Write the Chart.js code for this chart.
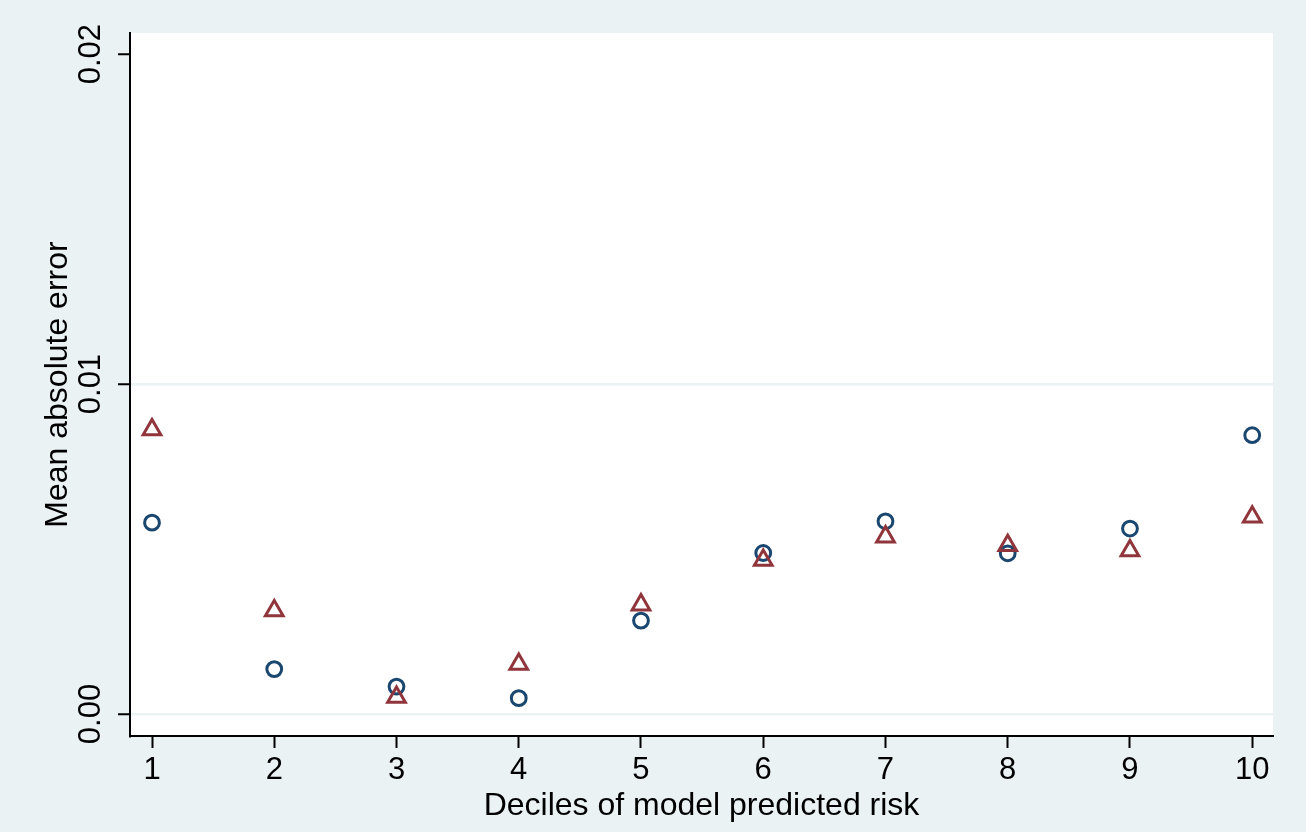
<!DOCTYPE html>
<html>
<head>
<meta charset="utf-8">
<script src="https://cdn.jsdelivr.net/npm/chart.js@4/dist/chart.umd.min.js"></script>
<style>
  html, body { margin: 0; padding: 0; background: #EAF2F3; }
  #wrap { width: 1306px; height: 832px; position: relative; }
</style>
</head>
<body>
<div id="wrap"><canvas id="c" width="1306" height="832"></canvas></div>
<script>
const deciles = [1, 2, 3, 4, 5, 6, 7, 8, 9, 10];
const seriesCircle = [0.0058, 0.00136, 0.00083, 0.00048, 0.00283, 0.00488, 0.00584, 0.00487, 0.00562, 0.00845];
const seriesTriangle = [0.00862, 0.00313, 0.00051, 0.00151, 0.00331, 0.00466, 0.00537, 0.00511, 0.00495, 0.00597];
const xTicks = [1, 2, 3, 4, 5, 6, 7, 8, 9, 10];
const yTicks = [0, 0.01, 0.02];
const yTickLabels = ['0.00', '0.01', '0.02'];
const xTitle = 'Deciles of model predicted risk';
const yTitle = 'Mean absolute error';

const NAVY = '#1A476F';
const MAROON = '#90353B';
const BG = '#EAF2F3';
const FONT = '"Liberation Sans", Arial, Helvetica, sans-serif';

const bgPlugin = {
  id: 'bg',
  beforeDraw(chart) {
    const { ctx, chartArea: a } = chart;
    ctx.save();
    ctx.fillStyle = BG;
    ctx.fillRect(0, 0, chart.width, chart.height);
    ctx.fillStyle = '#FFFFFF';
    ctx.fillRect(a.left, a.top, a.right - a.left, a.bottom - a.top);
    ctx.restore();
  }
};

const yLabelPlugin = {
  id: 'yLabels',
  afterDraw(chart) {
    const { ctx, chartArea: a } = chart;
    const ys = chart.scales.y;
    ctx.save();
    ctx.fillStyle = '#000';
    ctx.textAlign = 'center';
    ctx.textBaseline = 'middle';
    ctx.font = '31px ' + FONT;
    yTicks.forEach((v, i) => {
      const py = ys.getPixelForValue(v);
      ctx.save();
      ctx.translate(91, py);
      ctx.rotate(-Math.PI / 2);
      ctx.fillText(yTickLabels[i], 0, 0);
      ctx.restore();
    });
    ctx.font = '32px ' + FONT;
    ctx.save();
    ctx.translate(58, (a.top + a.bottom) / 2);
    ctx.rotate(-Math.PI / 2);
    ctx.fillText(yTitle, 0, 0);
    ctx.restore();
    ctx.restore();
  }
};

const ctx = document.getElementById('c').getContext('2d');
new Chart(ctx, {
  type: 'scatter',
  data: {
    datasets: [
      {
        label: 'circle',
        data: deciles.map((d, i) => ({ x: d, y: seriesCircle[i] })),
        pointStyle: 'circle',
        pointRadius: 7.4,
        pointBorderWidth: 3,
        pointBorderColor: NAVY,
        pointBackgroundColor: 'rgba(0,0,0,0)',
        order: 2
      },
      {
        label: 'triangle',
        data: deciles.map((d, i) => ({ x: d, y: seriesTriangle[i] })),
        pointStyle: 'triangle',
        pointRadius: 10.2,
        pointBorderWidth: 3,
        pointBorderColor: MAROON,
        pointBackgroundColor: 'rgba(0,0,0,0)',
        order: 1
      }
    ]
  },
  options: {
    responsive: false,
    animation: false,
    devicePixelRatio: 1,
    layout: { padding: { top: 33, right: 33, left: 0, bottom: 0 } },
    plugins: { legend: { display: false }, tooltip: { enabled: false } },
    scales: {
      x: {
        type: 'linear',
        min: 0.82,
        max: 10.17,
        afterBuildTicks(scale) { scale.ticks = xTicks.map(v => ({ value: v })); },
        afterFit(scale) { scale.height = 96; },
        border: { display: true, color: '#000', width: 2 },
        grid: { drawOnChartArea: false, drawTicks: true, tickLength: 12, tickWidth: 2, tickColor: '#000' },
        ticks: {
          color: '#000',
          font: { family: FONT, size: 31 },
          padding: 4,
          maxRotation: 0,
          autoSkip: false,
          callback: (v) => String(v)
        },
        title: {
          display: true,
          text: xTitle,
          color: '#000',
          font: { family: FONT, size: 32 },
          padding: { top: 0, bottom: 7 }
        }
      },
      y: {
        type: 'linear',
        min: -0.000667,
        max: 0.02064,
        afterBuildTicks(scale) { scale.ticks = yTicks.map(v => ({ value: v })); },
        afterFit(scale) { scale.width = 130; },
        border: { display: true, color: '#000', width: 2 },
        grid: {
          drawOnChartArea: true,
          drawTicks: true,
          tickLength: 12,
          tickWidth: 2,
          tickColor: '#000',
          lineWidth: 2.5,
          color: (c) => (c.tick && c.tick.value >= 0.015) ? 'rgba(0,0,0,0)' : BG
        },
        ticks: {
          display: true,
          color: 'rgba(0,0,0,0)',
          font: { family: FONT, size: 31 },
          callback: () => ''
        },
        title: { display: false }
      }
    }
  },
  plugins: [bgPlugin, yLabelPlugin]
});
</script>
</body>
</html>
